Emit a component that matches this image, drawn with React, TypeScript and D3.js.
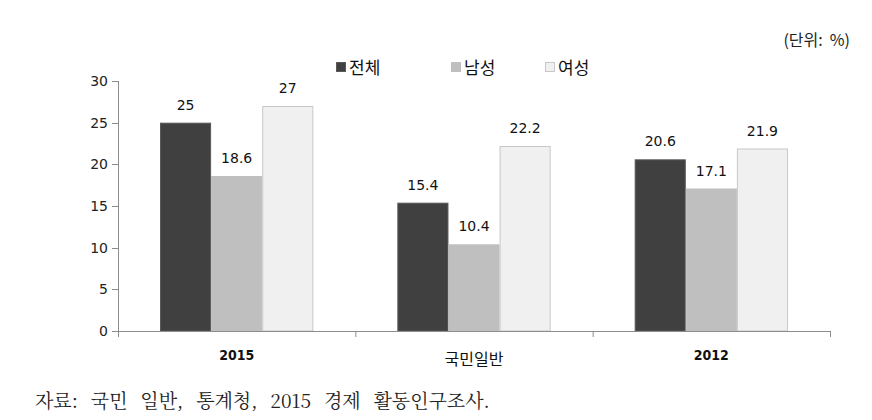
import React from "react";
import * as d3 from "d3";

const categories = ["2015", "국민일반", "2012"];
const seriesNames = ["전체", "남성", "여성"];
const total = [25, 15.4, 20.6];
const male = [18.6, 10.4, 17.1];
const female = [27, 22.2, 21.9];
const yTicks = [0, 5, 10, 15, 20, 25, 30];
const colors = ["#404040", "#bfbfbf", "#f0f0f0"];
const strokes = ["#595959", "#bfbfbf", "#c8c8c8"];

export default function App() {
  const W = 872, H = 420;
  const left = 118, right = 830, top = 81, bottom = 331;
  const x = d3.scaleBand<string>().domain(categories).range([left, right]).padding(0);
  const off = x.bandwidth() * 0.177;
  const inner = d3.scaleBand<string>().domain(seriesNames).range([off, x.bandwidth() - off]).padding(0);
  const y = d3.scaleLinear().domain([0, 30]).range([bottom, top]);
  const series = [total, male, female];
  const tickPositions = [left, ...categories.map((c) => (x(c) as number) + x.bandwidth())];
  const sansFont = "Verdana, 'DejaVu Sans', sans-serif";
  const krFont = "'Noto Sans CJK KR', sans-serif";
  const legendX = [336, 451, 545];

  return (
    <svg width={W} height={H} style={{ position: "absolute", left: 0, top: 0 }}>
      <rect width={W} height={H} fill="#fff" />
      {series.map((vals, si) =>
        categories.map((c, ci) => {
          const bx = (x(c) as number) + (inner(seriesNames[si]) as number);
          const by = y(vals[ci]);
          return (
            <g key={`${si}-${ci}`}>
              <rect x={bx + 0.5} y={by + 0.5} width={inner.bandwidth() - 1} height={bottom - by - 0.5}
                fill={colors[si]} stroke={strokes[si]} strokeWidth={1} />
              <text x={bx + inner.bandwidth() / 2} y={by - 13} textAnchor="middle"
                fontFamily={sansFont} fontSize={14} fill="#111">{vals[ci]}</text>
            </g>
          );
        })
      )}
      <line x1={left + 0.5} x2={left + 0.5} y1={top} y2={bottom + 6} stroke="#8c8c8c" />
      {yTicks.map((t) => (
        <g key={t}>
          <line x1={left - 6} x2={left} y1={Math.round(y(t)) + 0.5} y2={Math.round(y(t)) + 0.5} stroke="#8c8c8c" />
          <text x={left - 10} y={y(t) + 5} textAnchor="end" fontFamily={sansFont} fontSize={14} fill="#222">{t}</text>
        </g>
      ))}
      <line x1={left} x2={right} y1={bottom + 0.5} y2={bottom + 0.5} stroke="#8c8c8c" />
      {tickPositions.map((p, i) => (
        <line key={i} x1={p + 0.5} x2={p + 0.5} y1={bottom} y2={bottom + 6} stroke="#8c8c8c" />
      ))}
      {categories.map((c, i) => (
        <text key={c} x={(x(c) as number) + x.bandwidth() / 2} y={i === 1 ? 365 : 360} textAnchor="middle"
          fontFamily={i === 1 ? krFont : "'DejaVu Sans Condensed', 'Liberation Sans Narrow', sans-serif"}
          fontWeight={i === 1 ? "normal" : "bold"} fontSize={i === 1 ? 16 : 14} fill="#111">{c}</text>
      ))}
      {seriesNames.map((s, i) => (
        <g key={s}>
          <rect x={legendX[i] + 0.5} y={62.5} width={9} height={9} fill={colors[i]} stroke={strokes[i]} />
          <text x={legendX[i] + 13} y={74} fontFamily={krFont} fontSize={17} fill="#111">{s}</text>
        </g>
      ))}
      <text x={850} y={46} textAnchor="end" fontFamily={krFont} fontSize={16} fill="#222" style={{ whiteSpace: "pre" }}>(단위:  %)</text>
      <text x={35} y={408} fontFamily="'Noto Serif CJK KR', 'Batang', serif" fontSize={19} fill="#222"
        wordSpacing={8}>자료: 국민 일반, 통계청, 2015 경제 활동인구조사.</text>
    </svg>
  );
}
